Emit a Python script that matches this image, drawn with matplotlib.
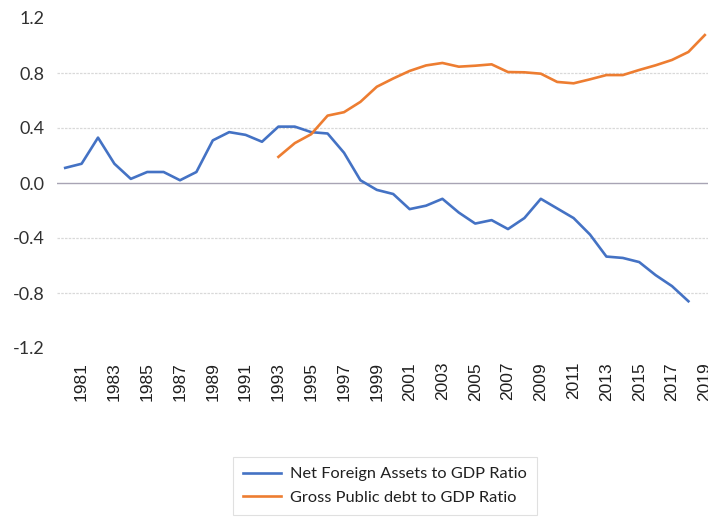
"""Net foreign assets vs gross public debt, both as a ratio of GDP."""

import matplotlib.pyplot as plt
import numpy as np

plt.rcParams.update({"font.family": "Liberation Sans", "figure.dpi": 100})

YEARS = list(range(1980, 2020))

NFA_YEARS = list(range(1980, 2019))
NFA = [
    0.11, 0.14, 0.33, 0.14, 0.03, 0.08, 0.08, 0.02, 0.08, 0.31,
    0.37, 0.35, 0.30, 0.41, 0.41, 0.37, 0.36, 0.22, 0.02, -0.05,
    -0.08, -0.19, -0.165, -0.115, -0.215, -0.295, -0.27, -0.335, -0.255, -0.115,
    -0.185, -0.255, -0.375, -0.535, -0.545, -0.575, -0.67, -0.75, -0.86,
]

DEBT_YEARS = list(range(1993, 2020))
DEBT = [
    0.19, 0.29, 0.355, 0.49, 0.515, 0.59, 0.70, 0.76, 0.815, 0.855,
    0.873, 0.846, 0.853, 0.863, 0.807, 0.805, 0.795, 0.735, 0.725, 0.754,
    0.785, 0.785, 0.822, 0.856, 0.895, 0.953, 1.076,
]

Y_TICKS = [-1.2, -0.8, -0.4, 0.0, 0.4, 0.8, 1.2]

BLUE = "#4472C4"
ORANGE = "#ED7D31"


def main() -> None:
    fig = plt.figure(figsize=(7.08, 5.17))
    ax = fig.add_axes([57 / 708, 169 / 517, 656 / 708, 330 / 517])

    pos = {y: i for i, y in enumerate(YEARS)}
    ax.plot([pos[y] for y in NFA_YEARS], NFA, color=BLUE, lw=1.9,
            label="Net Foreign Assets to GDP Ratio", zorder=3)
    ax.plot([pos[y] for y in DEBT_YEARS], DEBT, color=ORANGE, lw=1.9,
            label="Gross Public debt to GDP Ratio", zorder=3)

    ax.set_xlim(-0.5, len(YEARS) - 0.5)
    ax.set_ylim(-1.2, 1.2)
    ax.set_yticks(Y_TICKS)
    ax.set_yticklabels([f"{v:.1f}" for v in Y_TICKS], fontsize=13,
                       family="Lato", color="#303030")
    odd = [y for y in YEARS if y % 2 == 1]
    ax.set_xticks([pos[y] for y in odd])
    ax.set_xticklabels([str(y) for y in odd], rotation=90, fontsize=12.5,
                       color="#202020")
    ax.tick_params(length=0)
    ax.tick_params(axis="y", pad=9)
    ax.tick_params(axis="x", pad=10)
    for s in ax.spines.values():
        s.set_visible(False)

    for v in [-0.8, -0.4, 0.4, 0.8]:
        ax.axhline(v, color="#d9d9d9", lw=0.9, ls=(0, (2, 1)), zorder=1)
    ax.axhline(0.0, color="#a8a4b4", lw=1.0, zorder=2)

    leg = fig.legend(loc="upper left", bbox_to_anchor=(233 / 708, 1 - 457 / 517),
                     prop={"family": "Lato", "size": 11.8}, frameon=True,
                     fancybox=False, handlelength=2.3, handletextpad=0.6,
                     borderpad=0.6, labelspacing=0.55, borderaxespad=0)
    leg.get_frame().set_edgecolor("#d9d9d9")
    leg.get_frame().set_linewidth(0.8)
    for t in leg.get_texts():
        t.set_color("#202020")

    fig.savefig("out.png", dpi=100)
    plt.close(fig)


if __name__ == "__main__":
    main()
